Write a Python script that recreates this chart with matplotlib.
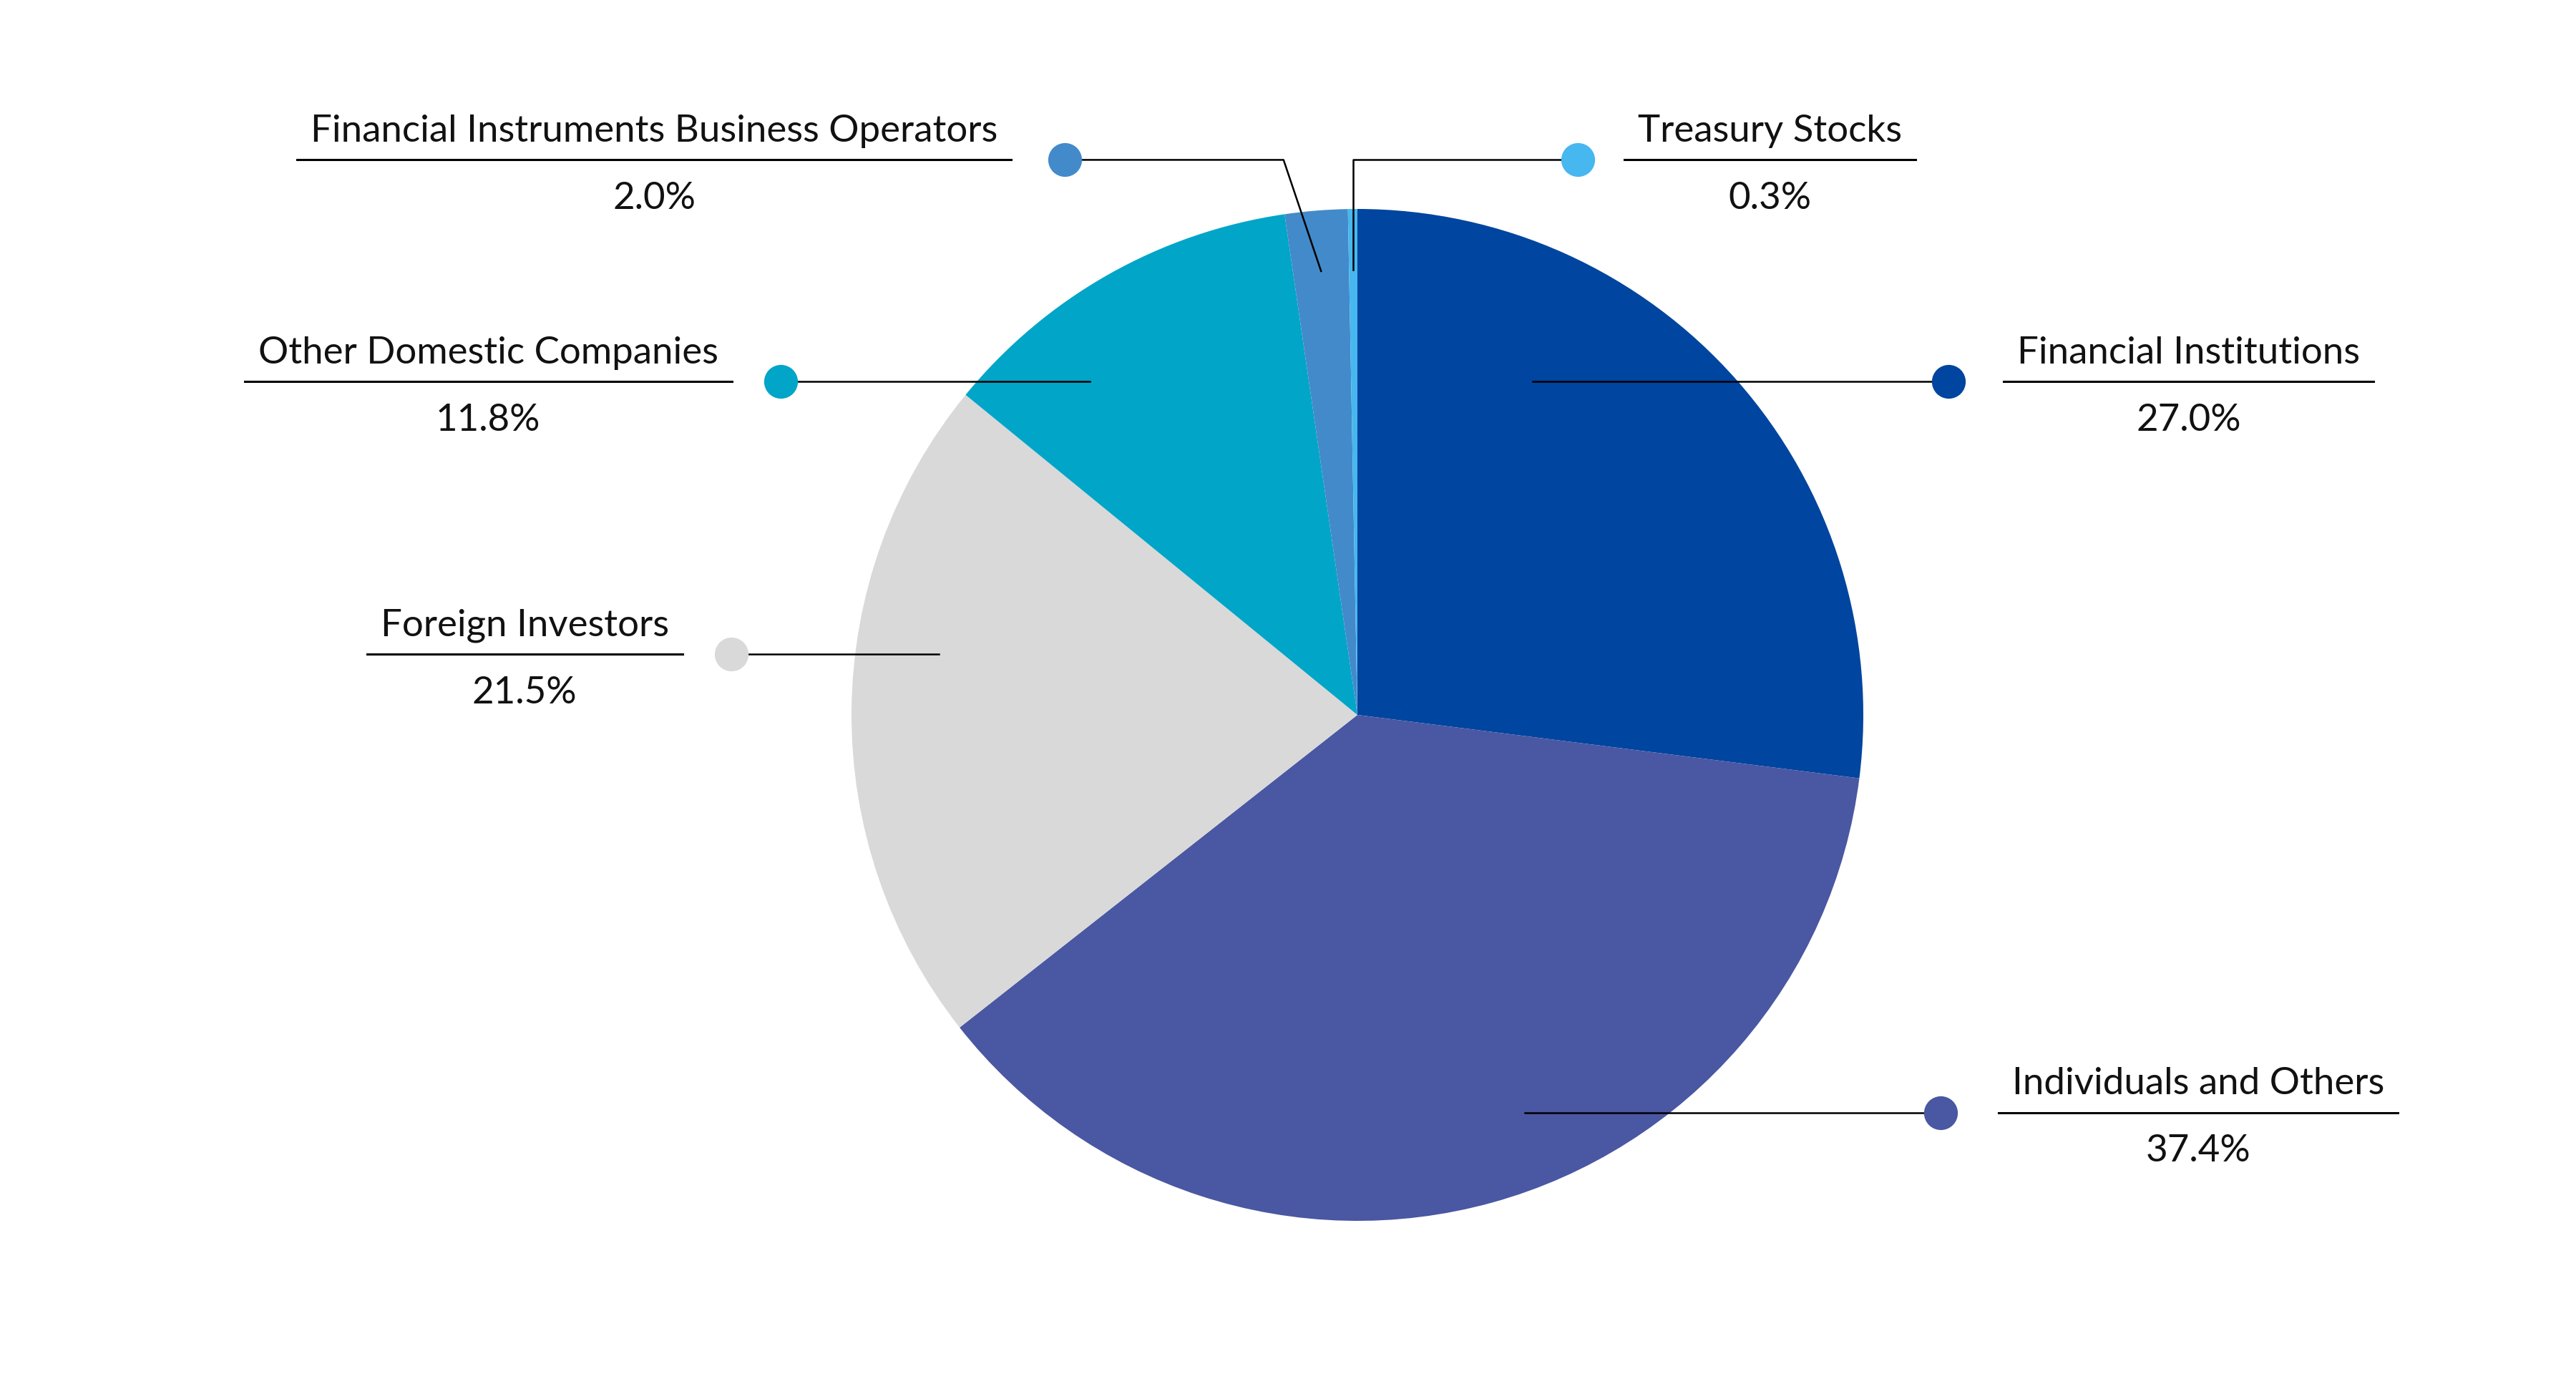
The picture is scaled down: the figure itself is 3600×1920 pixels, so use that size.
import numpy as np
import matplotlib
matplotlib.use('Agg')
import matplotlib.pyplot as plt

plt.rcParams['font.family'] = ['Lato', 'DejaVu Sans']

# shareholder composition (%)
categories = [
    'Financial Institutions',
    'Individuals and Others',
    'Foreign Investors',
    'Other Domestic Companies',
    'Financial Instruments Business Operators',
    'Treasury Stocks',
]
shares = [27.0, 37.4, 21.5, 11.8, 2.0, 0.3]
colors = ['#00459F', '#4A57A2', '#D9D9D9', '#00A5C8', '#438ACA', '#47B7EF']

# layout, in pie-radius units (pie centred at 0,0)
dot_x = [1.169, 1.153, -1.237, -1.140, -0.578, 0.435]
line_y = [0.659, -0.786, 0.120, 0.659, 1.097, 1.097]
inner_x = [0.347, 0.331, -0.828, -0.529, None, None]   # horizontal leaders
text_x = [1.643, 1.662, -1.646, -1.718, -1.390, 0.815]
fibo_elbow_x = -0.146

W, H = 3600, 1920
cx, cy, rad = 1897, 999, 707

fig = plt.figure(figsize=(W / 200, H / 200), dpi=200)
ax = fig.add_axes([0, 0, 1, 1])
ax.pie(
    shares,
    colors=colors,
    startangle=90,
    counterclock=False,
    radius=1,
    wedgeprops=dict(linewidth=0),
)
ax.set_xlim(-cx / rad, (W - cx) / rad)
ax.set_ylim(-(H - cy) / rad, cy / rad)
ax.set_aspect('auto')
ax.axis('off')

# mid angles of the wedges, for the two thin slices
cum = np.cumsum([0] + shares)
mid = (cum[:-1] + cum[1:]) / 2.0
theta = np.deg2rad(90 - mid / 100.0 * 360.0)

txt_off = 0.036
pct_off = 0.097
pad = 0.027
fs = 19

fig.canvas.draw()
renderer = fig.canvas.get_renderer()
inv = ax.transData.inverted()

for i, name in enumerate(categories):
    y = line_y[i]
    if inner_x[i] is not None:
        ax.plot([inner_x[i], dot_x[i]], [y, y], color='black', lw=0.9, zorder=3)
    else:
        ax_x = 0.88 * np.cos(theta[i])
        ax_y = 0.88 * np.sin(theta[i])
        ex = fibo_elbow_x if i == 4 else ax_x
        ax.plot([dot_x[i], ex, ax_x], [y, y, ax_y], color='black', lw=0.9, zorder=3)
    ax.plot(dot_x[i], y, 'o', ms=17, color=colors[i], mec='none', zorder=4)

    t = ax.text(text_x[i], y + txt_off, name, ha='center', va='baseline',
                fontsize=fs, color='#111111')
    ax.text(text_x[i], y - pct_off, f'{shares[i]:.1f}%', ha='center', va='baseline',
            fontsize=fs, color='#111111')
    bb = t.get_window_extent(renderer=renderer)
    x0 = inv.transform((bb.x0, 0))[0] - pad
    x1 = inv.transform((bb.x1, 0))[0] + pad
    ax.plot([x0, x1], [y, y], color='black', lw=1.1, zorder=3)

fig.savefig('out.png', dpi=200)
